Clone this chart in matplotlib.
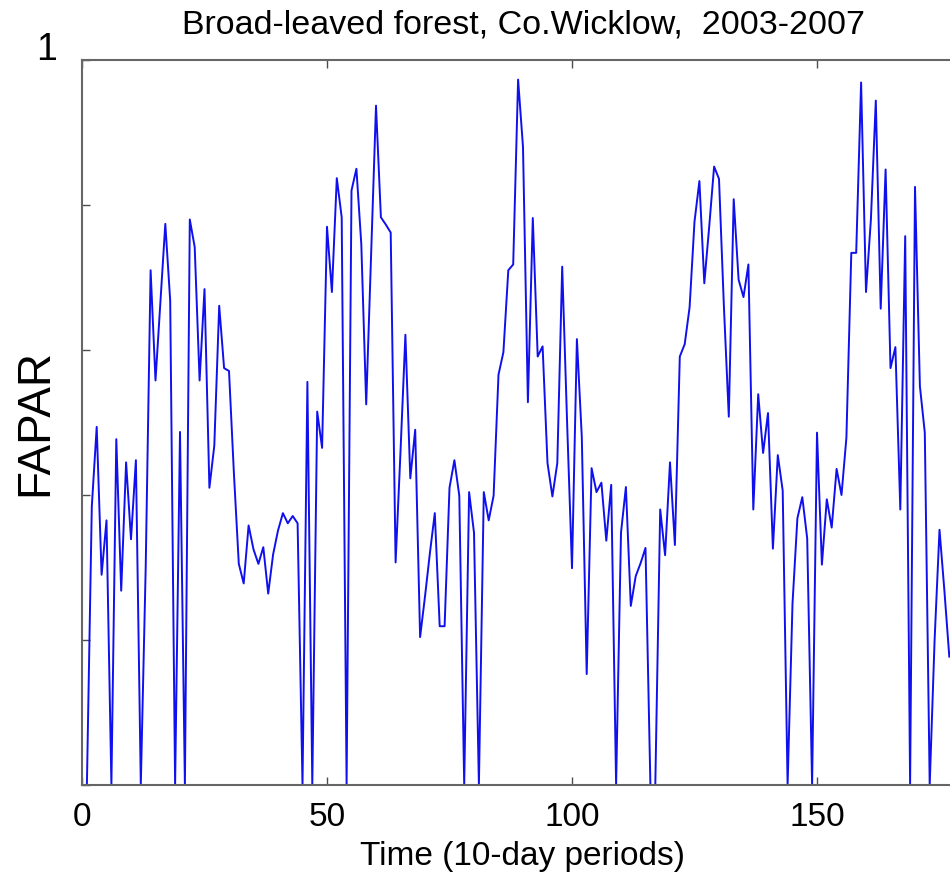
import numpy as np
import matplotlib
matplotlib.use('Agg')
import matplotlib.pyplot as plt

plt.rcParams['font.family'] = ['Liberation Sans', 'DejaVu Sans']

# FAPAR, one value per 10-day period
fapar = [
    0.0, 0.384, 0.494, 0.29, 0.365, 0.0, 0.477, 0.268, 0.445, 0.339,
    0.448, 0.0, 0.3, 0.71, 0.558, 0.665, 0.774, 0.668, 0.0, 0.487,
    0.0, 0.78, 0.742, 0.558, 0.684, 0.41, 0.468, 0.661, 0.575, 0.571,
    0.43, 0.305, 0.278, 0.358, 0.325, 0.305, 0.328, 0.264, 0.318, 0.351,
    0.375, 0.361, 0.371, 0.361, 0.0, 0.556, 0.0, 0.515, 0.465, 0.77,
    0.68, 0.837, 0.783, 0.0, 0.82, 0.85, 0.746, 0.525, 0.73, 0.937,
    0.783, 0.773, 0.762, 0.307, 0.46, 0.621, 0.423, 0.49, 0.204, 0.26,
    0.32, 0.375, 0.219, 0.219, 0.41, 0.448, 0.399, 0.0, 0.404, 0.348,
    0.0, 0.404, 0.365, 0.399, 0.566, 0.597, 0.71, 0.718, 0.973, 0.88,
    0.528, 0.782, 0.591, 0.605, 0.444, 0.398, 0.444, 0.715, 0.5, 0.299,
    0.615, 0.48, 0.153, 0.437, 0.404, 0.417, 0.337, 0.414, 0.0, 0.348,
    0.411, 0.247, 0.288, 0.306, 0.327, 0.0, 0.0, 0.38, 0.317, 0.445,
    0.331, 0.591, 0.608, 0.659, 0.777, 0.833, 0.692, 0.77, 0.853, 0.836,
    0.66, 0.508, 0.808, 0.697, 0.673, 0.718, 0.38, 0.539, 0.458, 0.513,
    0.326, 0.455, 0.406, 0.0, 0.25, 0.368, 0.397, 0.34, 0.0, 0.486,
    0.304, 0.394, 0.355, 0.436, 0.40, 0.479, 0.734, 0.734, 0.969, 0.68,
    0.78, 0.944, 0.657, 0.849, 0.575, 0.604, 0.38, 0.757, 0.0, 0.825,
    0.55, 0.486, 0.0, 0.2, 0.352, 0.268, 0.177,
]
periods = np.arange(1, len(fapar) + 1)

xticks = [0, 50, 100, 150]
yticks = [0, 0.2, 0.4, 0.6, 0.8, 1.0]

fig = plt.figure(figsize=(9.5, 8.74), dpi=100)
# the axes run past the right edge of the figure, as in the cropped original
ax = fig.add_axes([82/950, 89/874, 882/950, 725/874])

ax.plot(periods, fapar, color='#1010ee', lw=1.4)

ax.set_xlim(0, 180)
ax.set_ylim(0, 1)
ax.set_xticks(xticks)
ax.set_yticks(yticks)
ax.set_yticklabels([])
ax.tick_params(direction='in', top=True, right=True, length=6, width=1,
               color='0.3', labelsize=24, pad=12)
for s in ax.spines.values():
    s.set_color('0.4')
    s.set_linewidth(1.5)

ax.set_title('Broad-leaved forest, Co.Wicklow,  2003-2007', fontsize=24.5, pad=19)
ax.set_xlabel('Time (10-day periods)', fontsize=24, labelpad=6)
ax.set_ylabel('FAPAR', fontsize=33)
ax.yaxis.set_label_coords(-0.028, 0.5)

fig.text(47/950, 1 - 50/874, '1', fontsize=27, ha='center', va='center')

fig.savefig('out.png', dpi=100)
